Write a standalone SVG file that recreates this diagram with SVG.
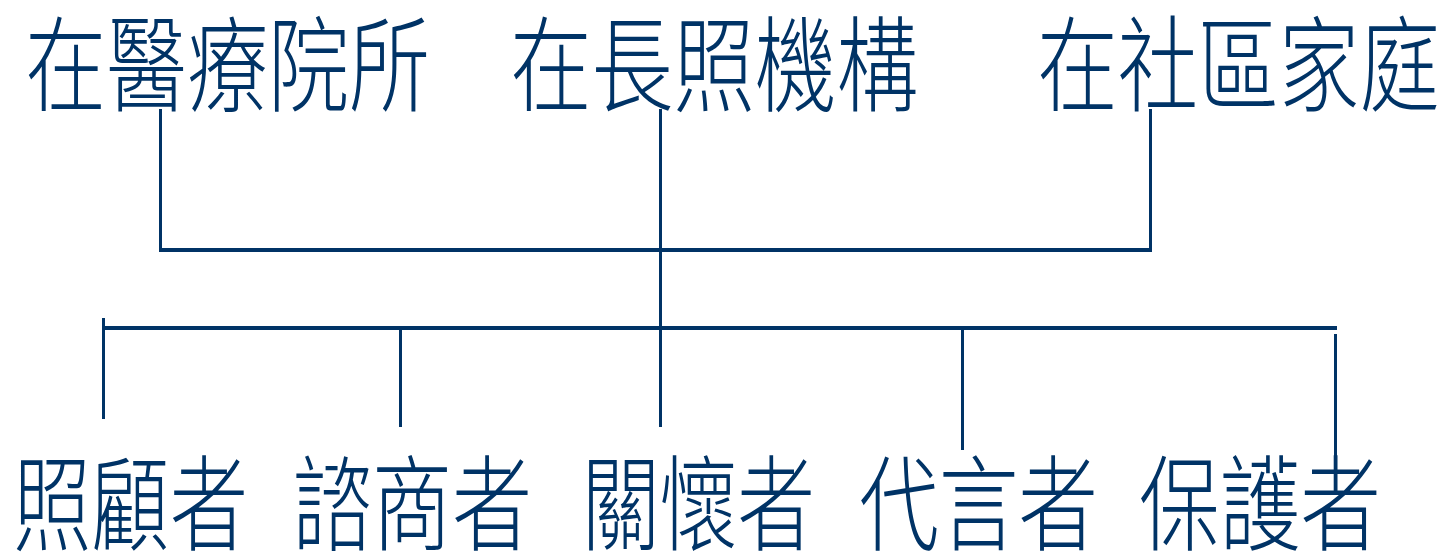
<svg xmlns="http://www.w3.org/2000/svg" width="1443" height="555" viewBox="0 0 1443 555">
<style>
.t{font-family:"Noto Sans CJK TC","Noto Sans CJK SC",sans-serif;font-size:104px;fill:#003366;font-weight:300}
.h{stroke:#003366;stroke-width:4;fill:none}
.v{stroke:#003366;stroke-width:3;fill:none}
</style>
<rect width="1443" height="555" fill="#ffffff"/>
<g id="connectors">
<line class="v" x1="160.5" y1="109" x2="160.5" y2="252"/>
<line class="v" x1="1150.5" y1="109" x2="1150.5" y2="252"/>
<line class="h" x1="159" y1="250" x2="1152" y2="250"/>
<line class="v" x1="660.5" y1="109" x2="660.5" y2="427"/>
<line class="h" x1="102" y1="328" x2="1337" y2="328"/>
<line class="v" x1="103.5" y1="318" x2="103.5" y2="419"/>
<line class="v" x1="400.5" y1="330" x2="400.5" y2="427"/>
<line class="v" x1="962.5" y1="330" x2="962.5" y2="450"/>
<line class="v" x1="1335.5" y1="334" x2="1335.5" y2="458"/>
</g>
<g id="n-hospital"><text class="t" x="25" y="104" textLength="405" lengthAdjust="spacingAndGlyphs">在醫療院所</text></g>
<g id="n-ltc"><text class="t" x="510" y="104" textLength="408" lengthAdjust="spacingAndGlyphs">在長照機構</text></g>
<g id="n-community"><text class="t" x="1037" y="104" textLength="403" lengthAdjust="spacingAndGlyphs">在社區家庭</text></g>
<g id="n-carer"><text class="t" x="13" y="543" textLength="235" lengthAdjust="spacingAndGlyphs">照顧者</text></g>
<g id="n-counselor"><text class="t" x="292" y="543" textLength="240" lengthAdjust="spacingAndGlyphs">諮商者</text></g>
<g id="n-caring"><text class="t" x="582" y="543" textLength="233" lengthAdjust="spacingAndGlyphs">關懷者</text></g>
<g id="n-advocate"><text class="t" x="859" y="543" textLength="239" lengthAdjust="spacingAndGlyphs">代言者</text></g>
<g id="n-protector"><text class="t" x="1139" y="543" textLength="242" lengthAdjust="spacingAndGlyphs">保護者</text></g>
</svg>
